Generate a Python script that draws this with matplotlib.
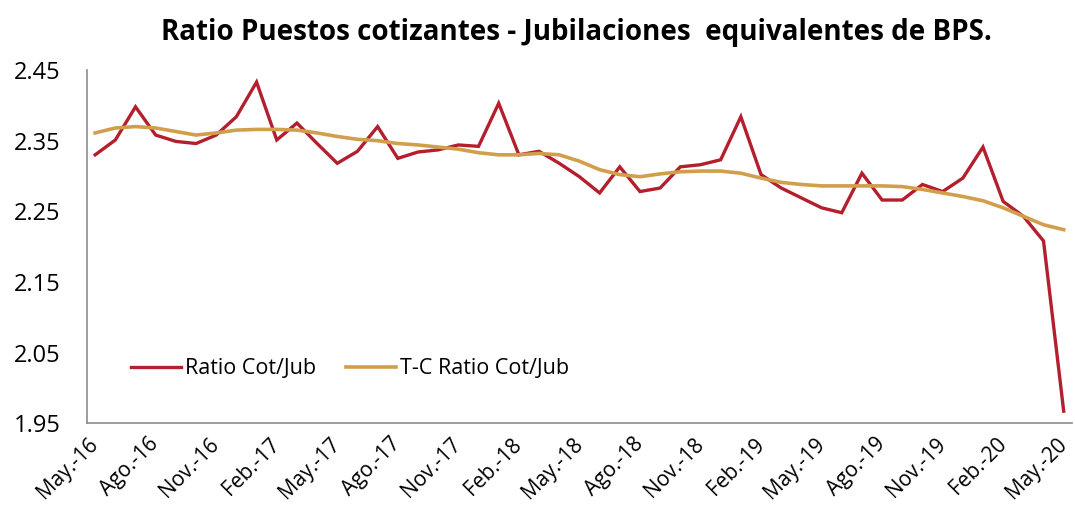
import matplotlib.pyplot as plt
import numpy as np

plt.rcParams['font.family'] = ['Open Sans', 'DejaVu Sans']

meses = ['May.', 'Jun.', 'Jul.', 'Ago.', 'Set.', 'Oct.', 'Nov.', 'Dic.', 'Ene.', 'Feb.', 'Mar.', 'Abr.']
fechas = []
for k in range(49):
    m = (4 + k) % 12
    a = 16 + (4 + k) // 12
    fechas.append(meses[(m - 4) % 12] + '-' + str(a))

ratio = [2.330, 2.351, 2.398, 2.358, 2.349, 2.346, 2.358, 2.384, 2.433, 2.351,
         2.375, 2.346, 2.318, 2.335, 2.370, 2.325, 2.334, 2.337, 2.344, 2.342,
         2.403, 2.330, 2.335, 2.318, 2.299, 2.276, 2.313, 2.278, 2.283, 2.313,
         2.316, 2.323, 2.384, 2.302, 2.283, 2.269, 2.255, 2.248, 2.304, 2.266,
         2.266, 2.288, 2.278, 2.297, 2.341, 2.264, 2.243, 2.208, 1.967]
tc_ratio = [2.361, 2.368, 2.370, 2.368, 2.363, 2.358, 2.361, 2.365, 2.366, 2.366,
            2.365, 2.361, 2.356, 2.352, 2.350, 2.346, 2.344, 2.341, 2.338, 2.333,
            2.330, 2.330, 2.332, 2.330, 2.321, 2.309, 2.302, 2.299, 2.303, 2.306,
            2.307, 2.307, 2.304, 2.297, 2.291, 2.288, 2.286, 2.286, 2.286, 2.286,
            2.285, 2.281, 2.276, 2.271, 2.265, 2.255, 2.243, 2.231, 2.224]
yticks = [1.95, 2.05, 2.15, 2.25, 2.35, 2.45]

x = np.arange(len(ratio))

fig = plt.figure(figsize=(10.75, 5.27), dpi=100)
ax = fig.add_axes([0.081, 0.197, 0.916, 0.67])
ax.plot(x, ratio, color='#B31F2C', lw=2.4, label='Ratio Cot/Jub', solid_joinstyle='miter')
ax.plot(x, tc_ratio, color='#D19F4C', lw=2.6, label='T-C Ratio Cot/Jub')

ax.set_xlim(-0.4, 48.4)
ax.set_ylim(1.95, 2.45)
ax.set_yticks(yticks)
ax.set_yticklabels(['%.2f' % v for v in yticks], fontsize=17)
ax.set_xticks(x[::3])
ax.set_xticklabels(fechas[::3], rotation=45, ha='right', va='center',
                   rotation_mode='anchor', fontsize=15)
ax.tick_params(axis='both', length=0)
ax.tick_params(axis='y', pad=19)
ax.tick_params(axis='x', pad=13)
for s in ['top', 'right']:
    ax.spines[s].set_visible(False)
for s in ['left', 'bottom']:
    ax.spines[s].set_color('#8C8C8C')
    ax.spines[s].set_linewidth(1.2)

ax.legend(loc='lower left', bbox_to_anchor=(0.025, 0.07), ncol=2, frameon=False,
          fontsize=15.5, handlelength=2.3, columnspacing=1.4, handletextpad=0.2)

fig.suptitle('Ratio Puestos cotizantes - Jubilaciones  equivalentes de BPS.',
             fontsize=20, fontweight='bold', x=0.536, y=0.965)

fig.savefig('out.png', dpi=100)
